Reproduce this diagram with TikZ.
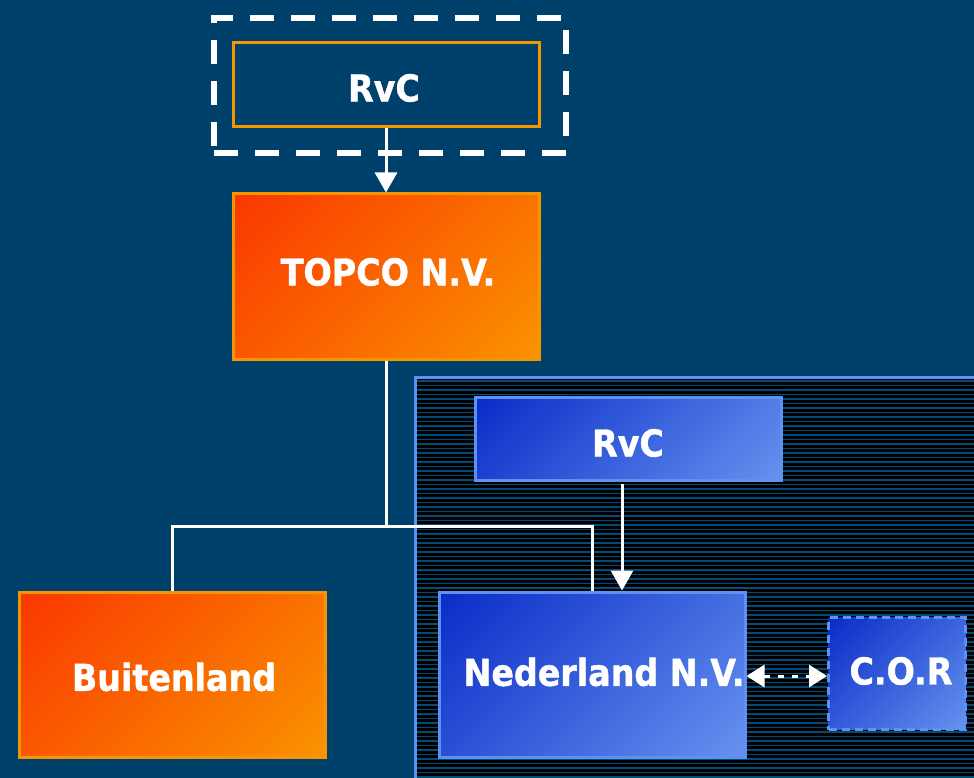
\documentclass[tikz,border=0pt]{standalone}
\usepackage{fontspec}
\setmainfont{DejaVu Sans}[FakeStretch=0.9,BoldFeatures={FakeBold=1.2}]
\usetikzlibrary{arrows.meta}
\definecolor{bg}{RGB}{0,65,107}
\definecolor{orborder}{RGB}{245,150,0}
\definecolor{orA}{RGB}{250,52,0}
\definecolor{orB}{RGB}{250,150,0}
\definecolor{blA}{RGB}{10,44,200}
\definecolor{blB}{RGB}{105,150,240}
\definecolor{blborder}{RGB}{95,145,240}
\definecolor{stripe}{RGB}{5,75,122}
\pgfdeclareverticalshading{orsh}{100bp}{color(0bp)=(orB); color(12bp)=(orB); color(88bp)=(orA); color(100bp)=(orA)}
\pgfdeclareverticalshading{blsh}{100bp}{color(0bp)=(blB); color(12bp)=(blB); color(85bp)=(blA); color(100bp)=(blA)}
\tikzset{
  lbl/.style={text=white,font=\fontsize{37}{42}\selectfont\bfseries,inner sep=0pt},
  orbox/.style={draw=orborder,line width=3pt,minimum width=306pt,minimum height=165pt,inner sep=0pt,
    shading=orsh,shading angle=45},
  blbox/.style={draw=blborder,line width=3pt,inner sep=0pt,
    shading=blsh,shading angle=45},
  conn/.style={draw=white,line width=3pt},
  arr/.style={conn,-{Triangle[width=22pt,length=20pt]}},
}
\begin{document}
\begin{tikzpicture}[x=1pt,y=-1pt]
\useasboundingbox (0,0) rectangle (974,778);
\clip (0,0) rectangle (974,778);
\fill[bg] (0,0) rectangle (974,778);
% right panel
\fill[black] (415,377) rectangle (990,800);
\begin{scope}
\clip (415,377) rectangle (990,800);
\foreach \y in {381,385.5,...,780} \draw[stripe,line width=1.2pt] (415,\y) -- (990,\y);
\end{scope}
\draw[blborder,line width=3pt] (990,377) -- (415,377) -- (415,800);
% dashed outer box
\node[draw=white,line width=6pt,dash pattern=on 24pt off 17pt,minimum width=352pt,minimum height=135pt,inner sep=0pt] (outer) at (390,85.5) {};
% top RvC
\node[draw=orborder,line width=3pt,fill=bg,minimum width=306pt,minimum height=84pt,inner sep=0pt] (rvc1) at (386,84.5) {};
\node[lbl] at (384,88) {RvC};
% TOPCO
\node[orbox] (topco) at (386,276.5) {};
\node[lbl] at (388,272) {TOPCO N.V.};
% Buitenland
\node[orbox] (buit) at (172,674.5) {};
\node[lbl] at (174,677) {Buitenland};
% blue RvC
\node[blbox,minimum width=306pt,minimum height=83pt] (rvc2) at (628,439) {};
\node[lbl] at (628,443) {RvC};
% Nederland
\node[blbox,minimum width=306pt,minimum height=165pt] (ned) at (592,674.5) {};
\node[lbl] at (604,672) {Nederland N.V.};
% C.O.R
\node[blbox,dashed,dash pattern=on 8pt off 5pt,minimum width=137pt,minimum height=112pt] (cor) at (897,673.5) {};
\node[lbl] at (901,671) {C.O.R};
% connectors
\draw[arr] (rvc1.south) -- (topco.north);
\coordinate (j) at (386,526);
\draw[conn] (topco.south) -- (j);
\draw[conn] (j) -| (buit.north);
\draw[conn] (j) -| (ned.north);
\coordinate (a2) at (622,484);
\draw[arr] (a2) -- (a2 |- ned.north);
\draw[conn,dash pattern=on 6pt off 8pt,{Triangle[width=22pt,length=18pt]}-{Triangle[width=22pt,length=18pt]}] ([yshift=-1.5pt]ned.east) -- ([yshift=-2.5pt]cor.west);
\end{tikzpicture}
\end{document}
